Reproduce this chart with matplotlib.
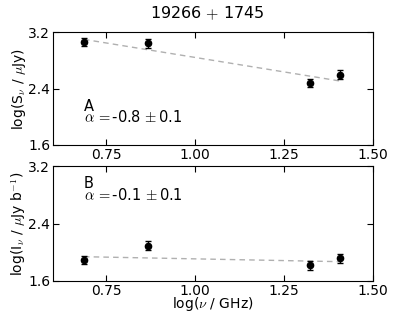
import numpy as np
import matplotlib
matplotlib.use("Agg")
import matplotlib.pyplot as plt

# data
freq_log = [0.687, 0.867, 1.323, 1.407]

flux_a = [3.055, 3.040, 2.480, 2.595]
err_a = [0.06, 0.06, 0.06, 0.06]
fit_a = [3.096, 2.506]

flux_b = [1.890, 2.090, 1.820, 1.915]
err_b = [0.06, 0.06, 0.06, 0.06]
fit_b = [1.938, 1.869]

x_ticks = [0.75, 1.00, 1.25, 1.50]
y_ticks = [1.6, 2.4, 3.2]

plt.rcParams["mathtext.fontset"] = "cm"

fig = plt.figure(figsize=(4.15, 3.12), dpi=100)
ax1 = fig.add_axes([53/415, 1-145/312, 320/415, 113/312])
ax2 = fig.add_axes([53/415, 1-281/312, 320/415, 115/312])

panels = [
    (ax1, flux_a, err_a, fit_a, r"log(S$_\nu$ / $\mu$Jy)"),
    (ax2, flux_b, err_b, fit_b, r"log(I$_\nu$ / $\mu$Jy b$^{-1}$)"),
]

for ax, y, e, fit, ylab in panels:
    ax.plot([freq_log[0], freq_log[-1]], fit, ls="--", dashes=(4, 3),
            color="#b0b0b0", lw=1)
    ax.errorbar(freq_log, y, yerr=e, fmt="o", color="black", ms=4.5,
                capsize=2, elinewidth=1)
    ax.set_xlim(0.6, 1.5)
    ax.set_ylim(1.6, 3.2)
    ax.set_xticks(x_ticks)
    ax.set_xticklabels(["%.2f" % t for t in x_ticks])
    ax.set_yticks(y_ticks)
    ax.tick_params(direction="in", top=True, right=True, labelsize=10,
                   length=4, pad=2)
    ax.set_ylabel(ylab, fontsize=10)
    ax.yaxis.set_label_coords(-0.078, 0.5)

ax1.text(0.687, 2.08, "A", fontsize=10.5)
ax1.text(0.687, 1.92, r"$\alpha\,{=}$-0.8$\,\pm$0.1", fontsize=10.5)
ax2.text(0.687, 2.89, "B", fontsize=10.5)
ax2.text(0.687, 2.72, r"$\alpha\,{=}$-0.1$\,\pm$0.1", fontsize=10.5)

ax2.set_xlabel(r"log($\nu$ / GHz)", fontsize=10, labelpad=-2)
fig.suptitle(r"19266$\,+\,$1745", fontsize=11.5, y=0.985)

fig.savefig("out.png", dpi=100)
